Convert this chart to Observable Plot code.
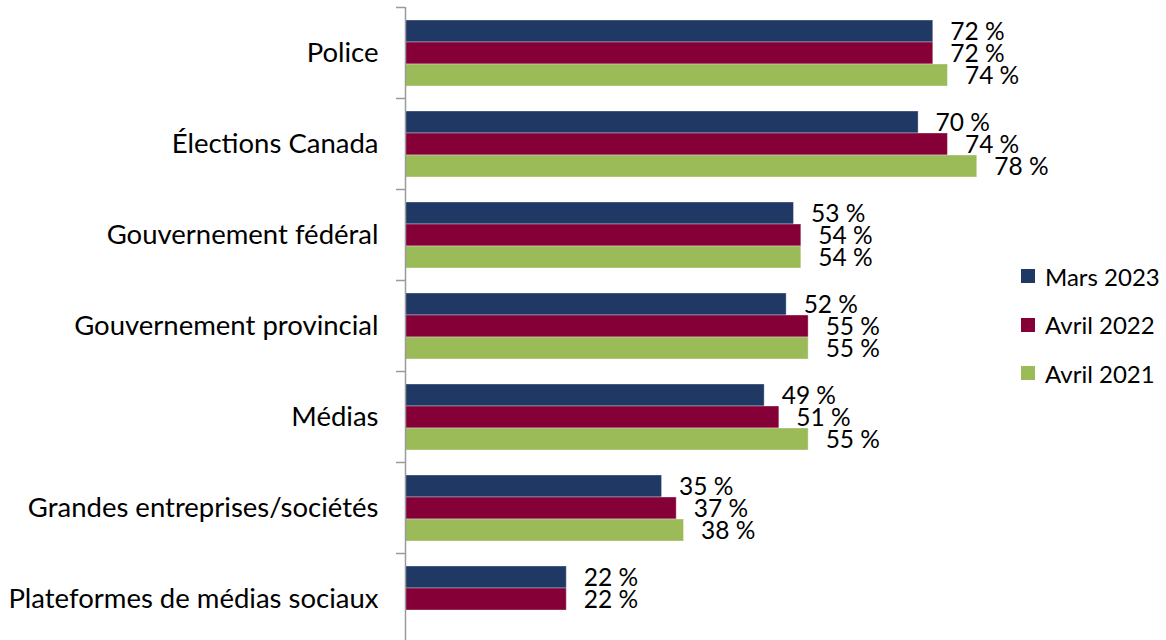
<!DOCTYPE html>
<html>
<head>
<meta charset="utf-8">
<script src="https://cdn.jsdelivr.net/npm/d3@7"></script>
<script src="https://cdn.jsdelivr.net/npm/@observablehq/plot@0.6"></script>
<style>
  html, body { margin: 0; padding: 0; background: #fff; overflow: hidden; }
  #wrap { position: relative; width: 1166px; height: 640px; font-family: Lato, "Liberation Sans", sans-serif; }
  #legend { position: absolute; left: 1021px; top: 261px; }
  .li { display: flex; align-items: center; height: 30px; margin-bottom: 18.5px; font-size: 24px; color: #000; }
  .sw { width: 14px; height: 14px; margin-right: 10px; }
</style>
</head>
<body>
<div id="wrap"><div id="legend"></div></div>
<script>
const categories = ["Police", "Élections Canada", "Gouvernement fédéral", "Gouvernement provincial", "Médias", "Grandes entreprises/sociétés", "Plateformes de médias sociaux"];
const series = ["Mars 2023", "Avril 2022", "Avril 2021"];
const colors = ["#1F3864", "#860038", "#9BBB59"];
const mars2023 = [72, 70, 53, 52, 49, 35, 22];
const avril2022 = [72, 74, 54, 55, 51, 37, 22];
const avril2021 = [74, 78, 54, 55, 55, 38, null];

const values = [mars2023, avril2022, avril2021];
const data = [];
categories.forEach((c, i) => {
  series.forEach((s, j) => {
    const v = values[j][i];
    if (v != null) data.push({category: c, series: s, value: v});
  });
});

const width = 1166, height = 640;
const marginTop = 7, marginBottom = -4;
const bandStep = (height - marginTop - marginBottom) / categories.length;
const font = "Lato, 'Liberation Sans', sans-serif";

const chart = Plot.plot({
  width, height,
  marginLeft: 405, marginRight: 28, marginTop, marginBottom,
  style: {fontFamily: font, color: "#000", background: "#fff", overflow: "visible"},
  x: {domain: [0, 100], axis: null},
  y: {domain: series, paddingInner: 0, paddingOuter: 0.5, axis: null},
  fy: {domain: categories, paddingInner: 0, paddingOuter: 0, axis: null},
  color: {domain: series, range: colors},
  marks: [
    Plot.barX(data, {fy: "category", y: "series", x: "value", fill: "series", stroke: "#ffffff", strokeOpacity: 0.35, strokeWidth: 1}),
    Plot.text(data, {fy: "category", y: "series", x: "value", text: d => d.value + " %", textAnchor: "start", dx: 17, dy: 1, fontSize: 24.5, fill: "#000"}),
    Plot.ruleX([0], {stroke: "#9a9a9a", strokeWidth: 1.5}),
    Plot.axisFy({anchor: "left", tickSize: 0, tickPadding: 27, fontSize: 27.5, label: null, fill: "#000"}),
    Plot.axisFy({anchor: "left", tickSize: 9, tickFormat: () => "", label: null, stroke: "#9a9a9a", strokeWidth: 1.5, dy: -bandStep / 2})
  ]
});
document.getElementById("wrap").prepend(chart);

const legend = document.getElementById("legend");
series.forEach((s, j) => {
  const row = document.createElement("div");
  row.className = "li";
  const sw = document.createElement("div");
  sw.className = "sw";
  sw.style.background = colors[j];
  const t = document.createElement("span");
  t.textContent = s;
  row.append(sw, t);
  legend.append(row);
});
</script>
</body>
</html>
